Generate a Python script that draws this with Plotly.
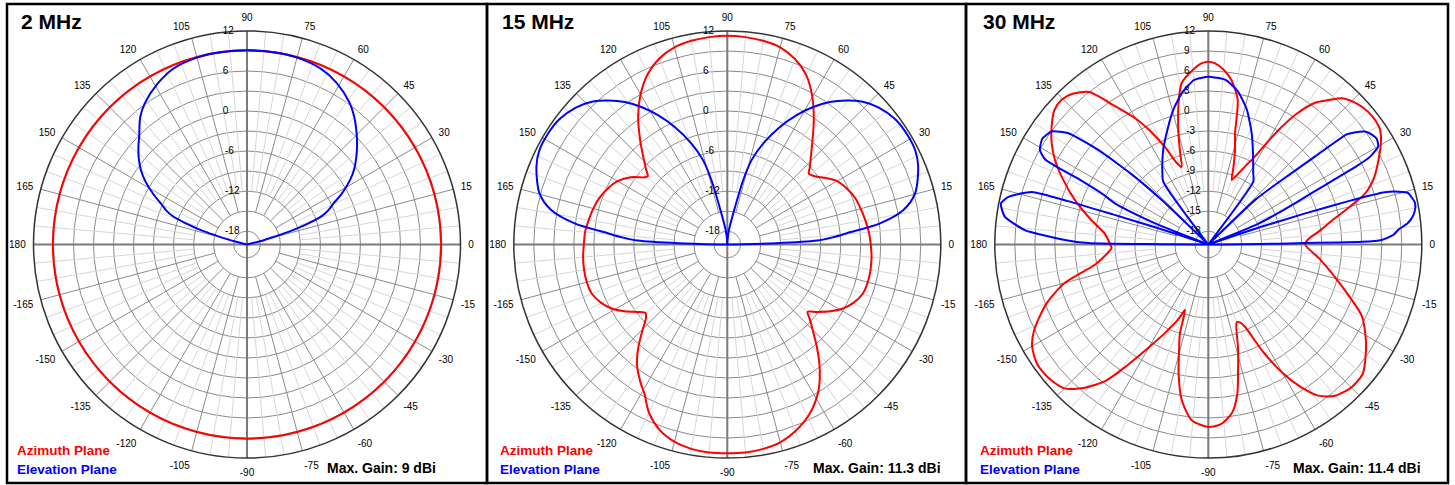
import plotly.graph_objects as go

W, H = 1455, 485
R_MIN, R_MAX = -20, 12
FONT = "Liberation Sans, Arial, sans-serif"

# ---------------- data (gain in dBi vs angle in degrees) ----------------
# 2 MHz
az2_theta = [0, 15, 30, 45, 60, 75, 90, 105, 120, 135, 150, 165, 180,
             195, 210, 225, 240, 255, 270, 285, 300, 315, 330, 345, 360]
az2_r = [9.1, 9.1, 9.1, 9.1, 9.1, 9.1, 9.1, 9.1, 9.1, 9.1, 9.1, 9.1, 9.1,
         9.1, 9.1, 9.1, 9.1, 9.1, 9.1, 9.1, 9.1, 9.1, 9.1, 9.1, 9.1]
el2_theta = [0, 12, 14, 15, 16, 17, 18, 19, 21, 23, 25.5, 28, 32, 35, 38.7, 42, 45.4, 50, 54, 61, 67.5, 75, 82, 90,
             98, 105, 112.5, 119, 126, 130, 134.6, 138, 141.3, 145, 148, 152, 154.5, 157, 159, 161, 162, 163, 164, 165,
             166, 168, 180]
el2_r = [-20, -20, -18, -17, -15.5, -13.5, -11.8, -10.2, -7.9, -6.7, -5.6, -4.0, -1.8, -0.4, 1.0, 2.2, 3.4, 5.0, 6.2, 7.7, 8.6, 9.0, 9.1, 9.1,
         9.1, 9.0, 8.6, 7.6, 6.1, 4.9, 3.0, 1.9, 0.8, -0.6, -2.0, -4.2, -5.7, -6.8, -8.0, -10.3, -11.8, -13.3, -15.3, -17.0,
         -18.0, -20, -20]

# 15 MHz
az15_theta = [0, 5, 10, 15, 20, 25, 30, 34, 38, 41, 43, 46, 50, 55, 60, 65, 70, 75, 80, 85, 90,
              95, 100, 105, 110, 115, 120, 125, 130, 134, 137, 139.4, 141, 145, 150, 155, 160, 165, 170, 175, 180,
              185, 190, 195, 200, 205, 209, 213, 217, 220, 222, 225, 229, 233, 238, 241, 245, 250, 255, 260, 265, 270,
              275, 280, 285, 290, 296, 302, 307, 311, 315, 318, 320, 323, 327, 331, 335, 340, 345, 350, 355, 360]
az15_r = [1.5, 1.3, 1.0, 0.7, 0.4, -0.2, -1.0, -2.2, -3.4, -3.8, -3.1, -2.0, -0.2, 2.6, 5.5, 8.0, 9.6, 10.6, 11.0, 11.2, 11.3,
          11.2, 11.0, 10.6, 9.7, 8.2, 6.0, 3.3, 0.3, -1.9, -3.3, -4.3, -4.0, -2.4, -1.0, -0.2, 0.4, 0.8, 1.1, 1.4, 1.5,
          1.7, 1.8, 1.8, 1.6, 0.8, -0.2, -1.6, -3.2, -4.0, -3.6, -2.1, 0.3, 2.5, 4.5, 5.6, 7.8, 9.6, 10.6, 11.1, 11.3, 11.3,
          11.3, 11.1, 10.7, 9.8, 8.2, 5.8, 3.0, 0.5, -1.9, -3.4, -4.3, -3.2, -1.6, -0.2, 0.8, 1.6, 1.8, 1.8, 1.7, 1.5]
el15_theta = [0, 2.5, 4, 5.4, 7.9, 11.1, 15.3, 22.2, 26.5, 31.3, 36.7, 42.1, 46.5, 50.4, 54.3, 58, 61.8, 65.9, 70.4,
              73.9, 76.1, 79.1, 84, 88, 90,
              92, 96, 100.9, 103.9, 106.1, 109.6, 114.1, 118.2, 122, 125.7, 129.6, 133.5, 137.9, 143.3, 148.7, 153.5,
              157.8, 164.7, 168.9, 172.1, 174.6, 176, 177.5, 180]
el15_r = [-20, -6.5, -4.0, -2.0, 3.1, 6.9, 9.2, 10.9, 11.5, 11.6, 11.4, 10.6, 9.5, 8.0, 6.3, 4.3, 2.0, -0.7, -3.9,
          -6.8, -10.0, -15.2, -18.0, -19.5, -20,
          -19.5, -18.0, -15.2, -10.0, -6.8, -3.9, -0.7, 2.0, 4.3, 6.3, 8.0, 9.5, 10.6, 11.4, 11.6, 11.5,
          10.9, 9.2, 6.9, 3.1, -2.0, -4.0, -6.5, -20]

# 30 MHz
az30_theta = [0, 3, 7, 11, 15, 18, 22, 27, 31, 34, 38, 42, 45, 47.6, 50, 53, 56, 58, 60, 62, 65, 67, 70, 72, 74,
              76.5, 78.5, 82, 85, 88, 90, 92, 95, 99.4, 102, 105, 107, 109, 111, 114, 117, 120, 124, 128, 132,
              135.5, 139, 143, 147, 151, 156, 161.5, 168, 174, 180,
              182, 186, 190, 195, 200, 206, 210, 215, 220, 225, 229, 233, 236, 240, 244, 248, 250.4, 252.3, 255,
              257, 260.3, 264.6, 270, 274, 278, 281, 283, 286, 290, 292, 294, 297, 300, 303, 306, 310, 315, 320,
              326, 330, 335, 340, 347, 353, 360]
az30_r = [-5.5, -5.0, -3.2, -1.1, 2.0, 4.7, 6.8, 8.7, 10.2, 11.0, 11.2, 10.9, 10.4, 9.7, 8.3, 6.6, 3.6, 0.8, -2.3, -5.0,
          -7.2, -8.4, -9.7, -7.8, -5.5,
          -2.8, 2.1, 4.9, 6.3, 7.2, 7.4, 7.2, 6.3, 4.5, 1.5, -2.7, -5.5, -7.7, -7.0, -4.0, -1.0, 1.8, 5.0, 9.0, 10.4,
          10.9, 10.6, 9.4, 8.0, 6.3, 3.8, 1.1, -2.0, -4.4, -5.3,
          -5.5, -4.5, -2.8, 2.3, 5.8, 9.0, 10.5, 11.3, 11.2, 10.5, 8.5, 5.6, 2.0, -2.2, -5.3, -7.8, -9.6, -6.0, -3.0,
          -0.2, 3.65, 6.45, 7.35, 7.0, 5.5, 2.8, -0.2, -3.8, -7.6, -7.4, -6.5, -2.0, 2.2, 5.5, 8.0, 9.6, 10.3, 10.2,
          8.5, 7.2, 5.4, 2.4, -1.0, -3.3, -5.5]
el30_theta = [0, 1, 1.5, 3, 4.5, 6, 8, 10, 11.5, 13, 14.5, 15.5, 16.5, 17.2, 17.8, 18.5, 19.5, 21.5, 22.5, 24, 25.5,
              26.5, 27.3, 27.8, 28.5, 30, 32, 34, 35.8, 37.5, 38.5, 39.5, 41.3, 43.6, 45.5, 53.5, 54.4, 58, 63,
              68.7, 74, 79, 84, 90, 95, 100, 104.6, 108.8, 115.5, 121, 125.6, 126.5, 135.5, 136.3, 137.5, 139.3,
              141.5, 144.2, 147.5, 150.7, 152.5, 153.3, 154.5, 156.2, 157.5, 158.5, 160, 161.5, 162, 162.5, 162.8,
              163.4, 166.6, 168.8, 172.2, 175.5, 178.2, 179.3, 180]
el30_r = [-20, 3.0, 6.0, 7.8, 8.6, 10.0, 11.0, 11.5, 11.6, 11.3, 10.9, 9.6, 7.6, 2.0, -5.0, -12, -20, -20, -12, -9.0, -5.5,
          -2.5, 1.5, 5.0, 7.6, 9.4, 9.8, 9.5, 8.95, 7.6, 6.5, 0.7, -5.4, -10.3, -20, -20, -8.4, -7.3, -5.2,
          -2.1, 1.0, 3.35, 4.8, 5.15, 4.75, 3.0, 0.85, -1.35, -4.3, -6.6, -8.4, -20, -20, -10.3, -4.5, 1.75,
          6.8, 8.95, 9.5, 8.95, 7.5, 1.3, -2.5, -4.7, -8.5, -12, -20, -20, -12, -5, 2.0,
          7.6, 10.8, 11.7, 10.8, 7.6, 1.5, -2.0, -20]

# text
panel_titles = ["2 MHz", "15 MHz", "30 MHz"]
max_gains = ["Max. Gain: 9 dBi", "Max. Gain: 11.3 dBi", "Max. Gain: 11.4 dBi"]
ang_ticks = list(range(0, 360, 15))
ang_text = [str(a if a <= 180 else a - 360) for a in ang_ticks]
rad_ticks = list(range(-18, 13, 3))

# ---------------- layout geometry / styling ----------------
centers = [(247, 244.5), (727.3, 244.5), (1208.3, 244.5)]
RADIUS = 213.5
panels_px = [(7, 487), (487, 966), (966, 1448)]
PANEL_TOP, PANEL_BOT = 4, 483
title_x = [19, 500, 981]
legend_x = [16, 499, 979]
gain_right = [437, 942, 1422]
TICK_SIZE = 10
NBSP = "\u00a0"


def rad_label(v, show):
    # left-aligned look: pad right side with non-breaking spaces
    if not show:
        return ""
    s = str(v)
    w = sum(3.33 if ch == "-" else 5.56 for ch in s)
    n = max(0, round((21 - w) / 2.78))
    return s + NBSP * n


rad_text_6 = [rad_label(v, v % 6 == 0) for v in rad_ticks]
rad_text_3 = [rad_label(v, True) for v in rad_ticks]

fig = go.Figure()
subs = ["polar", "polar2", "polar3"]
datasets = [(az2_theta, az2_r, el2_theta, el2_r),
            (az15_theta, az15_r, el15_theta, el15_r),
            (az30_theta, az30_r, el30_theta, el30_r)]
smooth = [(1.0, 1.0), (0.8, 0.8), (0.7, 0.5)]

for i, sub in enumerate(subs):
    lt, lr, dt, dr = [], [], [], []
    for a in range(0, 360, 5):
        if a % 90 == 0:
            continue
        if a % 15 == 0:
            dt += [a, a, None]
            dr += [-15, R_MAX, None]
        else:
            lt += [a, a, None]
            lr += [-12, R_MAX, None]
    fig.add_trace(go.Scatterpolar(theta=lt, r=lr, mode="lines", line=dict(color="#d6d6d6", width=1),
                                  subplot=sub, hoverinfo="skip", showlegend=False))
    fig.add_trace(go.Scatterpolar(theta=dt, r=dr, mode="lines", line=dict(color="#8a8a8a", width=1),
                                  subplot=sub, hoverinfo="skip", showlegend=False))
    fig.add_trace(go.Scatterpolar(theta=[0, 180, None, 90, 270], r=[R_MAX, R_MAX, None, R_MAX, R_MAX],
                                  mode="lines", line=dict(color="#7a7a7a", width=2),
                                  subplot=sub, hoverinfo="skip", showlegend=False))
    at, ar, et, er = datasets[i]
    sa, se = smooth[i]
    fig.add_trace(go.Scatterpolar(theta=at, r=ar, mode="lines",
                                  line=dict(color="#ff0000", width=2, shape="spline", smoothing=sa),
                                  subplot=sub, name="Azimuth Plane", showlegend=False))
    fig.add_trace(go.Scatterpolar(theta=et, r=er, mode="lines",
                                  line=dict(color="#0000ff", width=2, shape="spline", smoothing=se),
                                  subplot=sub, name="Elevation Plane", showlegend=False))

layout = dict(width=W, height=H, margin=dict(l=0, r=0, t=0, b=0),
              paper_bgcolor="white", showlegend=False, font=dict(family=FONT))
for i, sub in enumerate(subs):
    cx, cy = centers[i]
    dom_x = [(cx - RADIUS) / W, (cx + RADIUS) / W]
    dom_y = [(H - cy - RADIUS) / H, (H - cy + RADIUS) / H]
    layout[sub] = dict(
        domain=dict(x=dom_x, y=dom_y),
        bgcolor="white",
        radialaxis=dict(range=[R_MIN, R_MAX], angle=90, tickangle=90, side="counterclockwise",
                        tickvals=rad_ticks, ticktext=(rad_text_3 if i == 2 else rad_text_6),
                        showline=False, ticks="", gridcolor="#8a8a8a", gridwidth=1,
                        tickfont=dict(size=TICK_SIZE, color="black", family=FONT)),
        angularaxis=dict(rotation=0, direction="counterclockwise", tickvals=ang_ticks, ticktext=ang_text,
                         showgrid=False, showline=True, linecolor="#333333", linewidth=1.5,
                         ticks="outside", ticklen=5, tickcolor="rgba(0,0,0,0)",
                         tickfont=dict(size=TICK_SIZE, color="black", family=FONT)),
    )
fig.update_layout(**layout)

shapes = []
annotations = []
for i in range(3):
    x0, x1 = panels_px[i]
    shapes.append(dict(type="rect", xref="paper", yref="paper",
                       x0=x0 / W, x1=x1 / W, y0=1 - PANEL_BOT / H, y1=1 - PANEL_TOP / H,
                       line=dict(color="black", width=2.5), fillcolor="rgba(0,0,0,0)"))
    annotations.append(dict(text="<b>%s</b>" % panel_titles[i], xref="paper", yref="paper",
                            x=title_x[i] / W, y=1 - 21.7 / H, xanchor="left", yanchor="middle",
                            showarrow=False, font=dict(size=21, color="black", family=FONT)))
    annotations.append(dict(text="<b>Azimuth Plane</b>", xref="paper", yref="paper",
                            x=legend_x[i] / W, y=1 - 450 / H, xanchor="left", yanchor="middle",
                            showarrow=False, borderpad=0,
                            font=dict(size=13.5, color="#ff0000", family=FONT)))
    annotations.append(dict(text="<b>Elevation Plane</b>", xref="paper", yref="paper",
                            x=legend_x[i] / W, y=1 - 469 / H, xanchor="left", yanchor="middle",
                            showarrow=False, borderpad=0,
                            font=dict(size=13.5, color="#0000ff", family=FONT)))
    annotations.append(dict(text="<b>%s</b>" % max_gains[i], xref="paper", yref="paper",
                            x=gain_right[i] / W, y=1 - 468 / H, xanchor="right", yanchor="middle",
                            showarrow=False, borderpad=0,
                            font=dict(size=14, color="black", family=FONT)))
fig.update_layout(shapes=shapes, annotations=annotations)

fig.write_html("out.html", config={"displayModeBar": False},
               post_script="document.body.style.margin='0';document.body.style.overflow='hidden';")
